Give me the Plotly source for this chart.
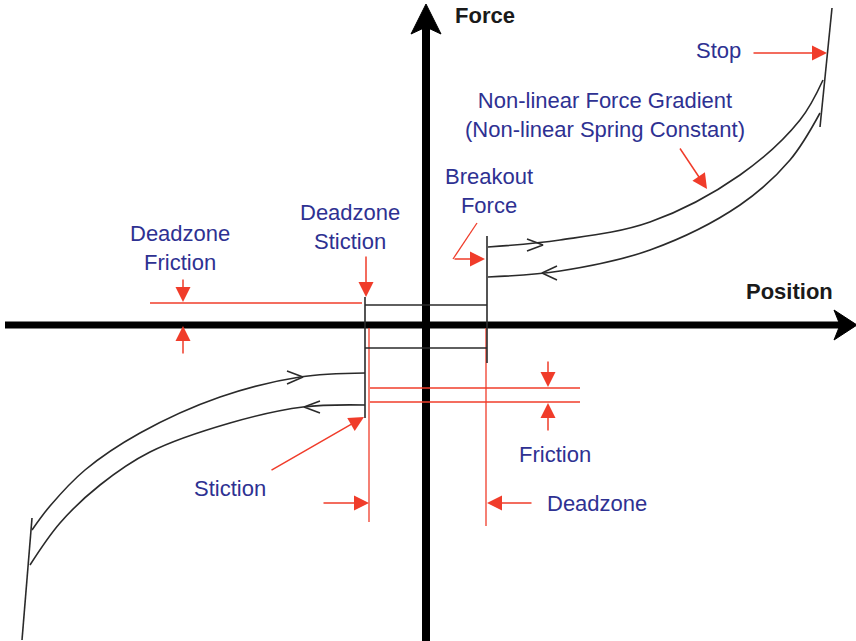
import plotly.graph_objects as go

# ---------------- data (diagram coordinates, y grows downward) ----------------
axis_h_x = [5, 845]
axis_h_y = [325, 325]
axis_v_x = [426, 426]
axis_v_y = [641, 22]
arrow_up_x = [426, 441, 426, 411, 426]
arrow_up_y = [4, 34, 27, 34, 4]
arrow_right_x = [857, 834, 840, 834, 857]
arrow_right_y = [325, 310, 325, 340, 325]

# upper-right hysteresis branch (outgoing / return)
ur_upper_x = [488, 560, 650, 740, 800, 823]
ur_upper_y = [247, 240, 222, 175, 120, 80]
ur_lower_x = [488, 560, 650, 740, 790, 820]
ur_lower_y = [277, 271, 250, 205, 160, 113]
stop_r_x = [820, 832]
stop_r_y = [127, 8]

# lower-left hysteresis branch
ll_upper_x = [365, 300, 220, 140, 85, 50, 32]
ll_upper_y = [373, 377, 397, 433, 470, 506, 530]
ll_lower_x = [365, 303, 230, 150, 100, 60, 30]
ll_lower_y = [405, 407, 423, 452, 485, 523, 565]
stop_l_x = [22, 32]
stop_l_y = [640, 518]

# deadzone box
box_top_y = 305
box_bot_y = 348
box_left_x = 365
box_right_x = 487
stiction_left_y = [297, 418]
breakout_right_y = [236, 363]

# direction chevrons
chev_x = [[527, 543, 527], [557, 542, 557], [287, 303, 287], [320, 304, 320]]
chev_y = [[239, 245, 251], [266, 273, 280], [371, 377, 384], [401, 407, 413]]

# red guide lines
red_lines = [
    ([150, 362], [303, 303]),          # deadzone friction level
    ([370, 580], [388, 388]),          # friction upper
    ([370, 580], [402, 402]),          # friction lower
    ([369, 369], [328, 522]),          # deadzone left
    ([486, 486], [328, 526]),          # deadzone right
    ([477, 453], [223, 259]),          # breakout leader
]

# red arrows: (tip_x, tip_y, tail_x, tail_y)
red_arrows = [
    (183, 302, 183, 278),
    (183, 326, 183, 355),
    (366, 297, 366, 255),
    (485, 259, 453, 259),
    (707, 189, 679, 147),
    (827, 53, 752, 53),
    (548, 387, 548, 360),
    (548, 403, 548, 432),
    (487, 503, 533, 503),
    (369, 503, 322, 503),
    (364, 417, 270, 471),
]

# labels
label_text = ["Deadzone<br>Friction", "Deadzone<br>Stiction", "Breakout<br>Force",
              "Non-linear Force Gradient<br>(Non-linear Spring Constant)", "Stop",
              "Friction", "Deadzone", "Stiction"]
label_x = [180, 350, 489, 605, 718, 555, 597, 230]
label_y = [248, 227, 191, 115, 50, 454, 503, 488]

NAVY = "#2e3192"
RED = "#f03c2a"
DARK = "#2a2a2a"

fig = go.Figure()


def add_line(x, y, color=DARK, width=1.6, shape="linear"):
    fig.add_trace(go.Scatter(x=x, y=y, mode="lines",
                             line=dict(color=color, width=width, shape=shape),
                             hoverinfo="skip"))


# axes
add_line(axis_h_x, axis_h_y, "black", 7)
add_line(axis_v_x, axis_v_y, "black", 8)
for px, py in [(arrow_up_x, arrow_up_y), (arrow_right_x, arrow_right_y)]:
    fig.add_trace(go.Scatter(x=px, y=py, mode="lines", fill="toself",
                             fillcolor="black", line=dict(color="black", width=1),
                             hoverinfo="skip"))

# red guide lines
for x, y in red_lines:
    add_line(x, y, RED, 1.3)

# box
add_line([box_left_x, box_right_x], [box_top_y, box_top_y])
add_line([box_left_x, box_right_x], [box_bot_y, box_bot_y])
add_line([box_left_x, box_left_x], stiction_left_y)
add_line([box_right_x, box_right_x], breakout_right_y)

# curves
add_line(ur_upper_x, ur_upper_y, shape="spline")
add_line(ur_lower_x, ur_lower_y, shape="spline")
add_line(stop_r_x, stop_r_y)
add_line(ll_upper_x, ll_upper_y, shape="spline")
add_line(ll_lower_x, ll_lower_y, shape="spline")
add_line(stop_l_x, stop_l_y)
for cx, cy in zip(chev_x, chev_y):
    add_line(cx, cy, width=1.5)

annotations = []
for tx, ty, ax, ay in red_arrows:
    annotations.append(dict(x=tx, y=ty, ax=ax, ay=ay, xref="x", yref="y",
                            axref="x", ayref="y", text="", showarrow=True,
                            arrowhead=2, arrowsize=2.0, arrowwidth=1.5,
                            arrowcolor=RED, standoff=0, startstandoff=0))
for t, x, y in zip(label_text, label_x, label_y):
    annotations.append(dict(x=x, y=y, xref="x", yref="y", text=t, showarrow=False,
                            font=dict(family="Liberation Sans, Arial", size=22, color=NAVY),
                            align="center"))
annotations.append(dict(x=485, y=15, xref="x", yref="y", text="<b>Force</b>",
                        showarrow=False,
                        font=dict(family="Liberation Sans, Arial", size=22, color="#1a1a1a")))
annotations.append(dict(x=789, y=291, xref="x", yref="y", text="<b>Position</b>",
                        showarrow=False,
                        font=dict(family="Liberation Sans, Arial", size=22, color="#1a1a1a")))

fig.update_layout(
    width=856, height=641,
    margin=dict(l=0, r=0, t=0, b=0),
    paper_bgcolor="white", plot_bgcolor="white",
    showlegend=False,
    xaxis=dict(range=[0, 856], visible=False, fixedrange=True),
    yaxis=dict(range=[641, 0], visible=False, fixedrange=True),
    annotations=annotations,
)

fig.write_html("out.html", config={"displayModeBar": False},
               post_script="document.body.style.margin='0';document.body.style.overflow='hidden';")
